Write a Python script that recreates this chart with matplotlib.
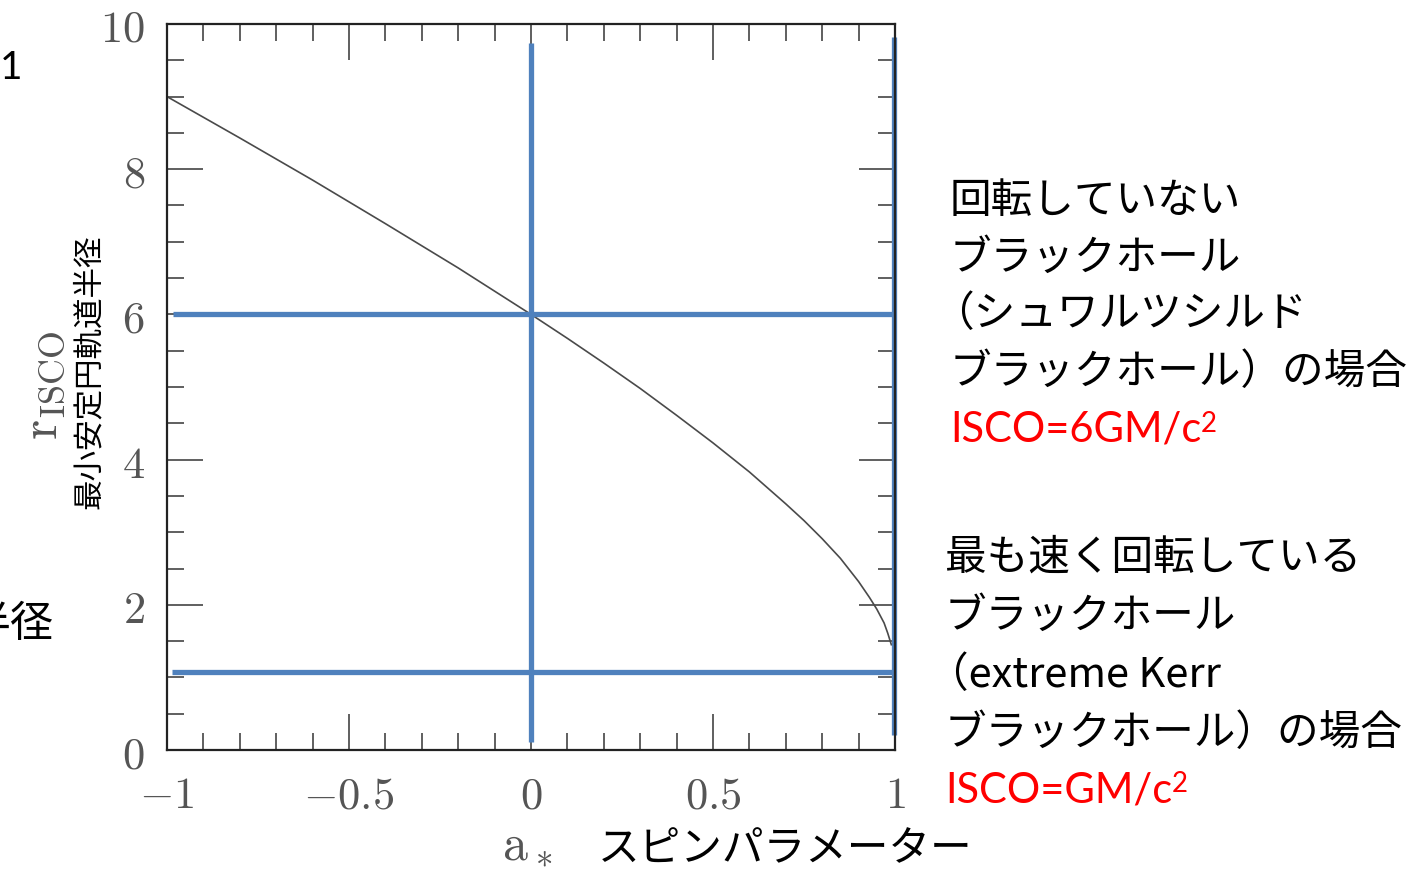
import matplotlib
matplotlib.use("Agg")
import matplotlib.pyplot as plt
from matplotlib.ticker import MultipleLocator

plt.rcParams['mathtext.fontset'] = 'cm'
plt.rcParams['font.family'] = ['Noto Sans CJK JP', 'DejaVu Sans']

################### DATOS ###################

# spin parameter vs radio ISCO
spin_a = [-1.0, -0.8, -0.6, -0.4, -0.2, 0.0, 0.1, 0.2, 0.3, 0.4, 0.5, 0.6,
          0.65, 0.7, 0.75, 0.8, 0.85, 0.9, 0.93, 0.95, 0.97, 0.98, 0.99]
r_isco = [9.0, 8.43, 7.85, 7.25, 6.64, 6.0, 5.67, 5.33, 4.98, 4.61, 4.23, 3.83,
          3.61, 3.39, 3.16, 2.91, 2.64, 2.32, 2.10, 1.94, 1.75, 1.61, 1.45]

x_ticks = [-1, -0.5, 0, 0.5, 1]
x_ticklabels = [r'$-1$', r'$-0.5$', r'$0$', r'$0.5$', r'$1$']
y_ticks = [0, 2, 4, 6, 8, 10]
y_ticklabels = [r'$%d$' % v for v in y_ticks]

# lineas azules: (valor, desde, hasta)
h_lines = [(6.0, -0.984, 1.0), (1.07, -0.985, 1.0)]
v_lines = [(0.0, 0.11, 9.74), (0.997, 0.21, 9.82)]

text_nonrot = ['回転していない', 'ブラックホール', '（シュワルツシルド', 'ブラックホール）の場合']
text_kerr = ['最も速く回転している', 'ブラックホール', '（extreme Kerr', 'ブラックホール）の場合']
isco_nonrot = 'ISCO=6GM/c'
isco_kerr = 'ISCO=GM/c'

################### FIGURA ###################

W, H = 1426, 871
fig = plt.figure(figsize=(W / 100, H / 100), dpi=100)
ax = fig.add_axes([167 / W, 1 - 750 / H, 728 / W, 726 / H])

ax.plot(spin_a, r_isco, color='#4a4a4a', linewidth=1.2)

blue = '#4f81bd'
for yv, x0, x1 in h_lines:
    ax.plot([x0, x1], [yv, yv], color=blue, linewidth=3.8, clip_on=False, solid_capstyle='butt')
for xv, y0, y1 in v_lines:
    ax.plot([xv, xv], [y0, y1], color=blue, linewidth=3.8, clip_on=False, solid_capstyle='butt')

ax.set_xlim(-1, 1)
ax.set_ylim(0, 10)
ax.set_xticks(x_ticks)
ax.set_xticklabels(x_ticklabels)
ax.set_yticks(y_ticks)
ax.set_yticklabels(y_ticklabels)
ax.xaxis.set_minor_locator(MultipleLocator(0.1))
ax.yaxis.set_minor_locator(MultipleLocator(0.5))
ax.tick_params(which='both', direction='in', top=True, right=True,
               color='#444444', width=1.2, labelsize=32, labelcolor='#555555', pad=16)
ax.tick_params(which='major', length=26)
ax.tick_params(which='minor', length=12)
for s in ax.spines.values():
    s.set_linewidth(1.6)
    s.set_color('#222222')

# etiquetas de ejes
fig.text(42 / W, 1 - 385 / H, r'$\mathrm{r}_{\mathrm{ISCO}}$', rotation=90,
         fontsize=37, color='#555555', ha='center', va='center')
fig.text(89 / W, 1 - 372 / H, '最小安定円軌道半径', rotation=90,
         fontsize=22, color='black', ha='center', va='center')
fig.text(527 / W, 1 - 845 / H, r'$\mathrm{a}_*$', fontsize=36,
         color='#555555', ha='center', va='center')
fig.text(598 / W, 1 - 850 / H, 'スピンパラメーター', fontsize=30,
         color='black', ha='left', va='center')

# textos cortados a la izquierda
fig.text(0 / W, 1 - 68 / H, '1', fontsize=28, family='Lato', ha='left', va='center')
fig.text(54 / W, 1 - 625 / H, '半径', fontsize=31, ha='right', va='center')

# textos de la derecha
for i, line in enumerate(text_nonrot):
    x = 950 - (18 if line.startswith('（') else 0)
    fig.text(x / W, 1 - (201 + 57 * i) / H, line, fontsize=30, ha='left', va='center')
for i, line in enumerate(text_kerr):
    x = 945 - (18 if line.startswith('（') else 0)
    fig.text(x / W, 1 - (558 + 58.5 * i) / H, line, fontsize=30, ha='left', va='center')

for txt, x, y in [(isco_nonrot, 950, 430), (isco_kerr, 945, 790)]:
    t = fig.text(x / W, 1 - y / H, txt, fontsize=30, family='Lato',
                 color='#ff0000', ha='left', va='center')
    ax.annotate('2', xy=(1.0, 1.0), xycoords=t, fontsize=20, family='Lato',
                color='#ff0000', ha='left', va='top', annotation_clip=False)

fig.savefig('out.png', dpi=100)
